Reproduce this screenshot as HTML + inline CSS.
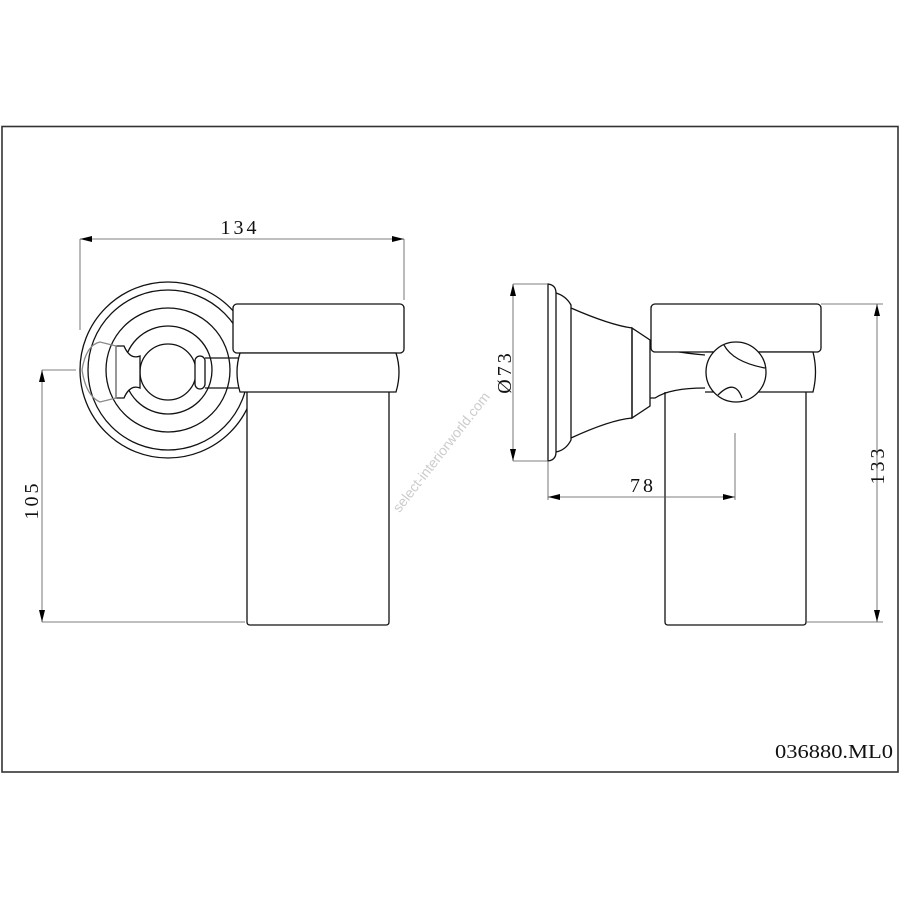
<!DOCTYPE html>
<html><head><style>html,body{margin:0;padding:0;background:#fff}svg{display:block}</style></head><body>
<svg width="900" height="900" viewBox="0 0 900 900" xmlns="http://www.w3.org/2000/svg" font-family="Liberation Serif, serif">
<defs>
<marker id="a" viewBox="0 0 12 6" refX="12" refY="3" markerWidth="12" markerHeight="6" orient="auto-start-reverse" markerUnits="userSpaceOnUse"><path d="M0,0L12,3L0,6z" fill="#000"/></marker>
</defs>
<rect x="2" y="126.5" width="896" height="645.5" fill="none" stroke="#333" stroke-width="1.6"/>
<g fill="none" stroke="#111" stroke-width="1.3">
<!-- left view -->
<circle cx="168" cy="370" r="88"/>
<circle cx="168" cy="370" r="80"/>
<circle cx="168" cy="370" r="62"/>
<circle cx="168" cy="370" r="44"/>
<circle cx="168" cy="372" r="28"/>
<path d="M116,346 L124,346 Q130,360 140,356 L140,388 Q130,384 124,398 L116,398 Z" fill="#fff"/>
<path d="M82,370 Q86,345 100,342 L116,346 L116,398 L100,402 Q86,396 82,370Z" stroke="#888"/>
<rect x="195" y="356" width="10" height="33" rx="5" fill="#fff"/>
<path d="M205,358 L240,358 M205,388 L240,388"/>
<path d="M247,392 L247,622 Q247,625 250,625 L386,625 Q389,625 389,622 L389,392" fill="#fff"/>
<rect x="233" y="304" width="171" height="49" rx="4" fill="#fff"/>
<path d="M240,353 Q234,372 240,392 L396,392 Q402,372 396,353 Z" fill="#fff"/>
<!-- right view -->
<path d="M548,284 L548,461 Q556,460 556,452 L556,293 Q556,285 548,284Z"/>
<path d="M556,293 Q566,296 571,305 L571,440 Q566,450 556,452"/>
<path d="M571,308 Q610,325 632,328 L632,418 Q610,420 571,438"/>
<path d="M632,328 L650,340 L650,406 L632,418Z"/>
<path d="M650,348 L655,346 Q670,352 705,355 M650,398 L655,398 Q670,388 705,388"/>
<rect x="651" y="304" width="170" height="48" rx="4" fill="#fff"/>
<path d="M705,352 L813,352 Q818,372 813,392 L705,392" fill="#fff"/>
<path d="M665,392 L665,622 Q665,625 668,625 L803,625 Q806,625 806,622 L806,392"/>
<circle cx="736" cy="372" r="30" fill="#fff"/>
<path d="M724,345 Q733,362 765,368 M718,395 Q735,378 742,398"/>
</g>
<g stroke="#555" stroke-width="0.8" fill="none">
<path d="M80,239 L80,330 M404,239 L404,300 M42,370 L76,370 M42,622 L245,622 M513,284 L548,284 M513,461 L548,461 M548,462 L548,500 M735,433 L735,500 M821,304 L883,304 M806,622 L883,622"/>
<path d="M80,239 L404,239" marker-start="url(#a)" marker-end="url(#a)"/>
<path d="M42,370 L42,622" marker-start="url(#a)" marker-end="url(#a)"/>
<path d="M513,284 L513,461" marker-start="url(#a)" marker-end="url(#a)"/>
<path d="M548,497 L735,497" marker-start="url(#a)" marker-end="url(#a)"/>
<path d="M877,304 L877,622" marker-start="url(#a)" marker-end="url(#a)"/>
</g>
<g font-size="20" fill="#111" letter-spacing="3">
<text x="240" y="234" text-anchor="middle">134</text>
<text x="643" y="492" text-anchor="middle">78</text>
<text transform="translate(38,500) rotate(-90)" text-anchor="middle">105</text>
<text transform="translate(511,372) rotate(-90)" text-anchor="middle">Ø73</text>
<text transform="translate(884,465) rotate(-90)" text-anchor="middle">133</text>
</g>
<text x="893" y="758" font-size="20" text-anchor="end" fill="#111" textLength="118" lengthAdjust="spacingAndGlyphs">036880.ML0</text>
<text transform="translate(445,455) rotate(-52)" font-family="Liberation Sans, sans-serif" font-size="14" fill="#ccc" text-anchor="middle">select-interiorworld.com</text>
</svg>
</body></html>
